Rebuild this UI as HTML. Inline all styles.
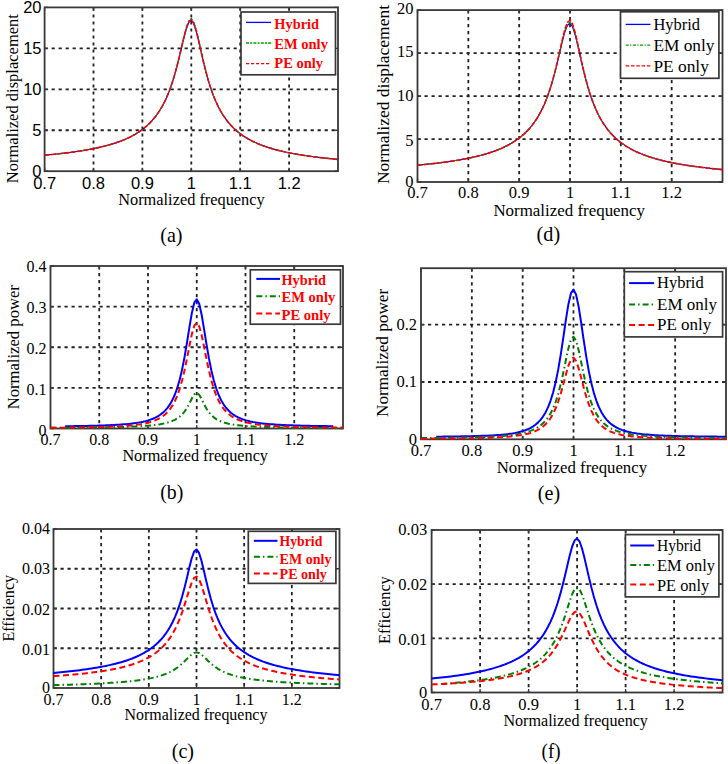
<!DOCTYPE html><html><head><meta charset="utf-8"><style>html,body{margin:0;padding:0;background:#fff;}svg{display:block;}</style></head><body>
<svg width="728" height="764" viewBox="0 0 728 764">
<rect width="728" height="764" fill="#fff"/>
<clipPath id="c0"><rect x="43.6" y="6.4" width="295.4" height="165.8"/></clipPath>
<path d="M93.5 7.4V171.2M142.4 7.4V171.2M191.3 7.4V171.2M240.2 7.4V171.2M289.1 7.4V171.2M44.6 130.25H338M44.6 89.3H338M44.6 48.35H338" stroke="#222" stroke-width="1.8" stroke-dasharray="3.2,3.8" fill="none"/>
<path d="M44.6 171.2v-3.5M44.6 7.4v3.5M93.5 171.2v-3.5M93.5 7.4v3.5M142.4 171.2v-3.5M142.4 7.4v3.5M191.3 171.2v-3.5M191.3 7.4v3.5M240.2 171.2v-3.5M240.2 7.4v3.5M289.1 171.2v-3.5M289.1 7.4v3.5M44.6 171.2h3.5M338 171.2h-3.5M44.6 130.25h3.5M338 130.25h-3.5M44.6 89.3h3.5M338 89.3h-3.5M44.6 48.35h3.5M338 48.35h-3.5M44.6 7.4h3.5M338 7.4h-3.5" stroke="#383838" stroke-width="1.3" fill="none"/>
<rect x="44.6" y="7.4" width="293.4" height="163.8" fill="none" stroke="#383838" stroke-width="1.8"/>
<path d="M44.6,155.17 47.05,154.95 49.49,154.72 51.94,154.48 54.38,154.23 56.83,153.98 59.27,153.71 61.72,153.44 64.16,153.15 66.61,152.85 69.05,152.54 71.5,152.22 73.94,151.88 76.38,151.53 78.83,151.17 81.27,150.79 83.72,150.39 86.16,149.97 88.61,149.53 91.05,149.07 93.5,148.59 95.94,148.09 98.39,147.56 100.83,147 103.28,146.4 105.72,145.78 108.17,145.12 110.62,144.42 113.06,143.68 115.5,142.9 117.95,142.06 120.4,141.17 122.84,140.21 125.29,139.19 127.73,138.1 130.18,136.92 132.62,135.65 135.07,134.28 137.51,132.8 139.96,131.18 142.4,129.42 144.85,127.49 147.29,125.37 149.73,123.04 152.18,120.45 154.62,117.58 157.07,114.37 159.51,110.78 161.96,106.72 164.41,102.13 166.85,96.91 169.3,90.96 171.74,84.18 174.19,76.45 176.63,67.73 179.07,58.07 181.52,47.76 183.97,37.47 186.41,28.42 188.85,22.25 191.3,20.5 193.74,23.71 196.19,31.08 198.63,40.97 201.08,51.76 203.52,62.35 205.97,72.14 208.41,80.91 210.86,88.64 213.3,95.41 215.75,101.34 218.19,106.53 220.64,111.09 223.09,115.13 225.53,118.7 227.97,121.89 230.42,124.74 232.87,127.31 235.31,129.63 237.76,131.74 240.2,133.66 242.64,135.41 245.09,137.02 247.53,138.5 249.98,139.86 252.43,141.13 254.87,142.3 257.31,143.39 259.76,144.41 262.21,145.36 264.65,146.25 267.1,147.08 269.54,147.87 271.99,148.6 274.43,149.3 276.88,149.96 279.32,150.58 281.77,151.17 284.21,151.73 286.65,152.26 289.1,152.77 291.55,153.25 293.99,153.71 296.43,154.15 298.88,154.57 301.33,154.97 303.77,155.35 306.21,155.72 308.66,156.07 311.11,156.41 313.55,156.73 316,157.04 318.44,157.34 320.89,157.63 323.33,157.91 325.77,158.18 328.22,158.43 330.67,158.68 333.11,158.92 335.56,159.16 338,159.38" stroke="#0000ff" stroke-width="1.2" fill="none" stroke-linejoin="round" clip-path="url(#c0)"/>
<path d="M44.6,155.19 47.05,154.97 49.49,154.74 51.94,154.5 54.38,154.25 56.83,154 59.27,153.73 61.72,153.46 64.16,153.17 66.61,152.87 69.05,152.57 71.5,152.24 73.94,151.91 76.38,151.56 78.83,151.19 81.27,150.81 83.72,150.41 86.16,149.99 88.61,149.56 91.05,149.1 93.5,148.62 95.94,148.11 98.39,147.58 100.83,147.02 103.28,146.43 105.72,145.81 108.17,145.15 110.62,144.45 113.06,143.71 115.5,142.92 117.95,142.09 120.4,141.19 122.84,140.24 125.29,139.22 127.73,138.13 130.18,136.95 132.62,135.68 135.07,134.31 137.51,132.82 139.96,131.2 142.4,129.44 144.85,127.5 147.29,125.38 149.73,123.04 152.18,120.45 154.62,117.57 157.07,114.35 159.51,110.73 161.96,106.65 164.41,102.03 166.85,96.77 169.3,90.76 171.74,83.9 174.19,76.06 176.63,67.19 179.07,57.33 181.52,46.74 183.97,36.13 186.41,26.74 188.85,20.31 191.3,18.46 193.74,21.78 196.19,29.43 198.63,39.65 201.08,50.77 203.52,61.61 205.97,71.6 208.41,80.52 210.86,88.35 213.3,95.2 215.75,101.19 218.19,106.42 220.64,111.02 223.09,115.07 225.53,118.66 227.97,121.87 230.42,124.73 232.87,127.31 235.31,129.63 237.76,131.74 240.2,133.67 242.64,135.42 245.09,137.03 247.53,138.51 249.98,139.88 252.43,141.14 254.87,142.32 257.31,143.41 259.76,144.42 262.21,145.38 264.65,146.27 267.1,147.1 269.54,147.88 271.99,148.62 274.43,149.32 276.88,149.98 279.32,150.6 281.77,151.19 284.21,151.75 286.65,152.28 289.1,152.79 291.55,153.27 293.99,153.73 296.43,154.17 298.88,154.59 301.33,154.99 303.77,155.37 306.21,155.73 308.66,156.09 311.11,156.42 313.55,156.75 316,157.06 318.44,157.36 320.89,157.65 323.33,157.92 325.77,158.19 328.22,158.45 330.67,158.7 333.11,158.94 335.56,159.17 338,159.39" stroke="#00a000" stroke-width="1.2" fill="none" stroke-linejoin="round" stroke-dasharray="4,2,1,2" clip-path="url(#c0)"/>
<path d="M44.6,155.2 47.05,154.98 49.49,154.75 51.94,154.51 54.38,154.27 56.83,154.01 59.27,153.75 61.72,153.47 64.16,153.18 66.61,152.89 69.05,152.58 71.5,152.26 73.94,151.92 76.38,151.57 78.83,151.21 81.27,150.83 83.72,150.43 86.16,150.01 88.61,149.57 91.05,149.12 93.5,148.63 95.94,148.13 98.39,147.6 100.83,147.04 103.28,146.45 105.72,145.83 108.17,145.17 110.62,144.47 113.06,143.73 115.5,142.95 117.95,142.11 120.4,141.22 122.84,140.27 125.29,139.25 127.73,138.16 130.18,136.98 132.62,135.71 135.07,134.34 137.51,132.86 139.96,131.24 142.4,129.48 144.85,127.55 147.29,125.44 149.73,123.1 152.18,120.52 154.62,117.64 157.07,114.43 159.51,110.83 161.96,106.77 164.41,102.17 166.85,96.94 169.3,90.97 171.74,84.15 174.19,76.38 176.63,67.6 179.07,57.85 181.52,47.41 183.97,36.98 186.41,27.77 188.85,21.48 191.3,19.69 193.74,22.95 196.19,30.44 198.63,40.48 201.08,51.42 203.52,62.12 205.97,72 208.41,80.83 210.86,88.6 213.3,95.41 215.75,101.35 218.19,106.56 220.64,111.13 223.09,115.17 225.53,118.75 227.97,121.94 230.42,124.8 232.87,127.37 235.31,129.69 237.76,131.79 240.2,133.71 242.64,135.46 245.09,137.07 247.53,138.55 249.98,139.91 252.43,141.17 254.87,142.34 257.31,143.43 259.76,144.45 262.21,145.4 264.65,146.29 267.1,147.12 269.54,147.91 271.99,148.64 274.43,149.34 276.88,150 279.32,150.62 281.77,151.21 284.21,151.77 286.65,152.3 289.1,152.8 291.55,153.28 293.99,153.74 296.43,154.18 298.88,154.6 301.33,155 303.77,155.38 306.21,155.75 308.66,156.1 311.11,156.43 313.55,156.76 316,157.07 318.44,157.37 320.89,157.66 323.33,157.93 325.77,158.2 328.22,158.46 330.67,158.71 333.11,158.95 335.56,159.18 338,159.4" stroke="#ff0000" stroke-width="1.6" fill="none" stroke-linejoin="round" stroke-dasharray="5,1.5" clip-path="url(#c0)"/>
<text x="41.5" y="176.97" font-family='"Liberation Sans", sans-serif' font-size="16.5" text-anchor="end" fill="#000">0</text>
<text x="41.5" y="136.03" font-family='"Liberation Sans", sans-serif' font-size="16.5" text-anchor="end" fill="#000">5</text>
<text x="41.5" y="95.08" font-family='"Liberation Sans", sans-serif' font-size="16.5" text-anchor="end" fill="#000">10</text>
<text x="41.5" y="54.12" font-family='"Liberation Sans", sans-serif' font-size="16.5" text-anchor="end" fill="#000">15</text>
<text x="41.5" y="13.18" font-family='"Liberation Sans", sans-serif' font-size="16.5" text-anchor="end" fill="#000">20</text>
<text x="44.6" y="188.5" font-family='"Liberation Sans", sans-serif' font-size="16.5" text-anchor="middle" fill="#000">0.7</text>
<text x="93.5" y="188.5" font-family='"Liberation Sans", sans-serif' font-size="16.5" text-anchor="middle" fill="#000">0.8</text>
<text x="142.4" y="188.5" font-family='"Liberation Sans", sans-serif' font-size="16.5" text-anchor="middle" fill="#000">0.9</text>
<text x="191.3" y="188.5" font-family='"Liberation Sans", sans-serif' font-size="16.5" text-anchor="middle" fill="#000">1</text>
<text x="240.2" y="188.5" font-family='"Liberation Sans", sans-serif' font-size="16.5" text-anchor="middle" fill="#000">1.1</text>
<text x="289.1" y="188.5" font-family='"Liberation Sans", sans-serif' font-size="16.5" text-anchor="middle" fill="#000">1.2</text>
<text x="118.2" y="205" font-family='"Liberation Serif", serif' font-size="16.3" textLength="146.5" lengthAdjust="spacingAndGlyphs" fill="#000">Normalized frequency</text>
<text transform="translate(17.7 183.2) rotate(-90)" x="0" y="0" font-family='"Liberation Serif", serif' font-size="16.5" textLength="169.1" lengthAdjust="spacingAndGlyphs" fill="#000">Normalized displacement</text>
<text x="160.2" y="242.3" font-family='"Liberation Serif", serif' font-size="22" textLength="22.3" lengthAdjust="spacingAndGlyphs" fill="#000">(a)</text>
<rect x="241" y="12" width="94.5" height="62.8" fill="#fff" stroke="#383838" stroke-width="1.7"/>
<path d="M246 22.4H271" stroke="#0000ff" stroke-width="1.3"/>
<text x="274.3" y="28.5" font-family='"Liberation Serif", serif' font-size="15" font-weight="bold" textLength="44.7" lengthAdjust="spacingAndGlyphs" fill="#ff0000">Hybrid</text>
<path d="M246 43H271" stroke="#00a000" stroke-width="1.3" stroke-dasharray="3,1.2,2,1.2"/>
<text x="274.3" y="49.1" font-family='"Liberation Serif", serif' font-size="15" font-weight="bold" textLength="53.6" lengthAdjust="spacingAndGlyphs" fill="#ff0000">EM only</text>
<path d="M246 63.6H271" stroke="#ff0000" stroke-width="1.3" stroke-dasharray="3.2,1.8"/>
<text x="274.3" y="68.4" font-family='"Liberation Serif", serif' font-size="15" font-weight="bold" textLength="48.8" lengthAdjust="spacingAndGlyphs" fill="#ff0000">PE only</text>
<clipPath id="c1"><rect x="49.5" y="265" width="294.5" height="164.5"/></clipPath>
<path d="M99.25 266V428.5M148 266V428.5M196.75 266V428.5M245.5 266V428.5M294.25 266V428.5M50.5 387.88H343M50.5 347.25H343M50.5 306.62H343" stroke="#222" stroke-width="1.8" stroke-dasharray="3.2,3.8" fill="none"/>
<path d="M50.5 428.5v-3.5M50.5 266v3.5M99.25 428.5v-3.5M99.25 266v3.5M148 428.5v-3.5M148 266v3.5M196.75 428.5v-3.5M196.75 266v3.5M245.5 428.5v-3.5M245.5 266v3.5M294.25 428.5v-3.5M294.25 266v3.5M50.5 428.5h3.5M343 428.5h-3.5M50.5 387.88h3.5M343 387.88h-3.5M50.5 347.25h3.5M343 347.25h-3.5M50.5 306.62h3.5M343 306.62h-3.5M50.5 266h3.5M343 266h-3.5" stroke="#383838" stroke-width="1.3" fill="none"/>
<rect x="50.5" y="266" width="292.5" height="162.5" fill="none" stroke="#383838" stroke-width="1.8"/>
<path d="M65.13,426.25 67.56,426.22 70,426.19 72.44,426.16 74.88,426.12 77.31,426.09 79.75,426.05 82.19,426.01 84.63,425.96 87.06,425.91 89.5,425.86 91.94,425.8 94.38,425.74 96.81,425.67 99.25,425.6 101.69,425.52 104.12,425.43 106.56,425.34 109,425.24 111.44,425.12 113.88,425 116.31,424.86 118.75,424.71 121.19,424.54 123.63,424.35 126.06,424.14 128.5,423.91 130.94,423.64 133.38,423.34 135.81,423.01 138.25,422.62 140.69,422.18 143.13,421.68 145.56,421.1 148,420.43 150.44,419.64 152.88,418.72 155.31,417.63 157.75,416.33 160.19,414.78 162.62,412.9 165.06,410.62 167.5,407.83 169.94,404.38 172.38,400.1 174.81,394.75 177.25,388.05 179.69,379.69 182.13,369.36 184.56,356.89 187,342.5 189.44,327.15 191.88,312.88 194.31,302.65 196.75,299.26 199.19,303.74 201.63,314.69 204.06,329.17 206.5,344.35 208.94,358.39 211.38,370.46 213.81,380.44 216.25,388.52 218.69,395 221.13,400.19 223.56,404.35 226,407.72 228.44,410.45 230.88,412.69 233.31,414.54 235.75,416.08 238.19,417.37 240.62,418.45 243.06,419.38 245.5,420.16 247.94,420.84 250.37,421.43 252.81,421.94 255.25,422.38 257.69,422.77 260.12,423.12 262.56,423.42 265,423.69 267.44,423.93 269.88,424.15 272.31,424.34 274.75,424.52 277.19,424.68 279.62,424.82 282.06,424.95 284.5,425.07 286.94,425.18 289.38,425.27 291.81,425.37 294.25,425.45 296.69,425.53 299.12,425.6 301.56,425.66 304,425.72 306.44,425.78 308.88,425.83 311.31,425.88 313.75,425.93 316.19,425.97 318.62,426.01 321.06,426.04 323.5,426.08 325.94,426.11 328.38,426.14 330.81,426.17 333.25,426.2" stroke="#0000ff" stroke-width="2.0" fill="none" stroke-linejoin="round" clip-path="url(#c1)"/>
<path d="M50.5,427.88 52.94,427.87 55.38,427.85 57.81,427.84 60.25,427.82 62.69,427.81 65.13,427.79 67.56,427.77 70,427.75 72.44,427.73 74.88,427.71 77.31,427.69 79.75,427.67 82.19,427.64 84.63,427.62 87.06,427.59 89.5,427.56 91.94,427.53 94.38,427.5 96.81,427.46 99.25,427.43 101.69,427.39 104.12,427.35 106.56,427.3 109,427.26 111.44,427.21 113.88,427.15 116.31,427.09 118.75,427.03 121.19,426.96 123.63,426.89 126.06,426.81 128.5,426.72 130.94,426.63 133.38,426.53 135.81,426.41 138.25,426.29 140.69,426.15 143.12,425.99 145.56,425.82 148,425.63 150.44,425.41 152.88,425.16 155.31,424.88 157.75,424.55 160.19,424.17 162.62,423.73 165.06,423.22 167.5,422.6 169.94,421.86 172.38,420.96 174.81,419.84 177.25,418.45 179.69,416.7 182.13,414.45 184.56,411.57 187,407.89 189.44,403.4 191.88,398.47 194.31,394.3 196.75,392.76 199.19,394.77 201.63,399.22 204.06,404.24 206.5,408.72 208.94,412.34 211.38,415.17 213.81,417.36 216.25,419.07 218.69,420.42 221.13,421.5 223.56,422.37 226,423.09 228.44,423.68 230.87,424.18 233.31,424.6 235.75,424.96 238.19,425.28 240.62,425.55 243.06,425.78 245.5,425.99 247.94,426.17 250.37,426.34 252.81,426.48 255.25,426.62 257.69,426.73 260.12,426.84 262.56,426.94 265,427.03 267.44,427.11 269.88,427.18 272.31,427.25 274.75,427.31 277.19,427.37 279.62,427.42 282.06,427.47 284.5,427.52 286.94,427.56 289.38,427.6 291.81,427.64 294.25,427.68 296.69,427.71 299.12,427.74 301.56,427.77 304,427.8 306.44,427.82 308.88,427.85 311.31,427.87 313.75,427.89 316.19,427.91 318.62,427.93 321.06,427.95 323.5,427.97 325.94,427.99 328.38,428 330.81,428.02 333.25,428.03 335.69,428.05 338.13,428.06 340.56,428.07 343,428.08" stroke="#008000" stroke-width="2.0" fill="none" stroke-linejoin="round" stroke-dasharray="6,3,1.5,3" clip-path="url(#c1)"/>
<path d="M50.5,427.77 52.94,427.75 55.38,427.73 57.81,427.71 60.25,427.69 62.69,427.67 65.13,427.65 67.56,427.63 70,427.6 72.44,427.57 74.88,427.54 77.31,427.51 79.75,427.48 82.19,427.44 84.63,427.4 87.06,427.36 89.5,427.31 91.94,427.26 94.38,427.21 96.81,427.15 99.25,427.09 101.69,427.02 104.12,426.94 106.56,426.86 109,426.77 111.44,426.67 113.88,426.57 116.31,426.45 118.75,426.32 121.19,426.17 123.63,426.01 126.06,425.83 128.5,425.63 130.94,425.4 133.38,425.15 135.81,424.86 138.25,424.53 140.69,424.16 143.12,423.73 145.56,423.23 148,422.66 150.44,422 152.88,421.22 155.31,420.29 157.75,419.2 160.19,417.9 162.62,416.33 165.06,414.42 167.5,412.09 169.94,409.22 172.38,405.66 174.81,401.23 177.25,395.7 179.69,388.81 182.13,380.33 184.56,370.11 187,358.34 189.44,345.79 191.88,334.12 194.31,325.7 196.75,322.82 199.19,326.33 201.63,335.12 204.06,346.82 206.5,359.16 208.94,370.62 211.38,380.52 213.81,388.75 216.25,395.44 218.69,400.83 221.13,405.17 223.56,408.67 226,411.51 228.44,413.82 230.87,415.73 233.31,417.31 235.75,418.62 238.19,419.73 240.62,420.67 243.06,421.47 245.5,422.15 247.94,422.74 250.37,423.25 252.81,423.7 255.25,424.09 257.69,424.44 260.12,424.74 262.56,425.01 265,425.25 267.44,425.47 269.88,425.66 272.31,425.83 274.75,425.99 277.19,426.13 279.62,426.26 282.06,426.38 284.5,426.49 286.94,426.59 289.38,426.68 291.81,426.76 294.25,426.84 296.69,426.91 299.12,426.97 301.56,427.03 304,427.09 306.44,427.14 308.88,427.19 311.31,427.23 313.75,427.27 316.19,427.31 318.62,427.35 321.06,427.38 323.5,427.42 325.94,427.45 328.38,427.48 330.81,427.5 333.25,427.53 335.69,427.55 338.13,427.57 340.56,427.6 343,427.62" stroke="#ff0000" stroke-width="2.0" fill="none" stroke-linejoin="round" stroke-dasharray="6,3.5" clip-path="url(#c1)"/>
<text x="46.5" y="435.6" font-family='"Liberation Serif", serif' font-size="16" text-anchor="end" fill="#000">0</text>
<text x="46.5" y="394.88" font-family='"Liberation Serif", serif' font-size="16" text-anchor="end" fill="#000">0.1</text>
<text x="46.5" y="354.15" font-family='"Liberation Serif", serif' font-size="16" text-anchor="end" fill="#000">0.2</text>
<text x="46.5" y="313.23" font-family='"Liberation Serif", serif' font-size="16" text-anchor="end" fill="#000">0.3</text>
<text x="46.5" y="272.3" font-family='"Liberation Serif", serif' font-size="16" text-anchor="end" fill="#000">0.4</text>
<text x="50.5" y="445.3" font-family='"Liberation Serif", serif' font-size="16" text-anchor="middle" fill="#000">0.7</text>
<text x="99.25" y="445.3" font-family='"Liberation Serif", serif' font-size="16" text-anchor="middle" fill="#000">0.8</text>
<text x="148" y="445.3" font-family='"Liberation Serif", serif' font-size="16" text-anchor="middle" fill="#000">0.9</text>
<text x="196.75" y="445.3" font-family='"Liberation Serif", serif' font-size="16" text-anchor="middle" fill="#000">1</text>
<text x="245.5" y="445.3" font-family='"Liberation Serif", serif' font-size="16" text-anchor="middle" fill="#000">1.1</text>
<text x="294.25" y="445.3" font-family='"Liberation Serif", serif' font-size="16" text-anchor="middle" fill="#000">1.2</text>
<text x="122.4" y="461.3" font-family='"Liberation Serif", serif' font-size="16.3" textLength="145.6" lengthAdjust="spacingAndGlyphs" fill="#000">Normalized frequency</text>
<text transform="translate(18.9 409.3) rotate(-90)" x="0" y="0" font-family='"Liberation Serif", serif' font-size="16.5" textLength="124.2" lengthAdjust="spacingAndGlyphs" fill="#000">Normalized power</text>
<text x="160.2" y="499.3" font-family='"Liberation Serif", serif' font-size="22" textLength="23.1" lengthAdjust="spacingAndGlyphs" fill="#000">(b)</text>
<rect x="250.3" y="269.8" width="90.2" height="54.4" fill="#fff" stroke="#383838" stroke-width="1.7"/>
<path d="M256.3 278.9H280" stroke="#0000ff" stroke-width="2.0"/>
<text x="281.5" y="284.9" font-family='"Liberation Serif", serif' font-size="14" font-weight="bold" textLength="44.5" lengthAdjust="spacingAndGlyphs" fill="#ff0000">Hybrid</text>
<path d="M256.3 296.3H280" stroke="#008000" stroke-width="2.0" stroke-dasharray="6,3,1.5,3"/>
<text x="281.5" y="302.3" font-family='"Liberation Serif", serif' font-size="14" font-weight="bold" textLength="53.7" lengthAdjust="spacingAndGlyphs" fill="#ff0000">EM only</text>
<path d="M256.3 313.6H280" stroke="#ff0000" stroke-width="2.0" stroke-dasharray="6,3.5"/>
<text x="281.5" y="319.7" font-family='"Liberation Serif", serif' font-size="14" font-weight="bold" textLength="49.1" lengthAdjust="spacingAndGlyphs" fill="#ff0000">PE only</text>
<clipPath id="c2"><rect x="52.5" y="528" width="288" height="161"/></clipPath>
<path d="M101.17 529V688M148.83 529V688M196.5 529V688M244.17 529V688M291.83 529V688M53.5 648.25H339.5M53.5 608.5H339.5M53.5 568.75H339.5" stroke="#222" stroke-width="1.8" stroke-dasharray="3.2,3.8" fill="none"/>
<path d="M53.5 688v-3.5M53.5 529v3.5M101.17 688v-3.5M101.17 529v3.5M148.83 688v-3.5M148.83 529v3.5M196.5 688v-3.5M196.5 529v3.5M244.17 688v-3.5M244.17 529v3.5M291.83 688v-3.5M291.83 529v3.5M53.5 688h3.5M339.5 688h-3.5M53.5 648.25h3.5M339.5 648.25h-3.5M53.5 608.5h3.5M339.5 608.5h-3.5M53.5 568.75h3.5M339.5 568.75h-3.5M53.5 529h3.5M339.5 529h-3.5" stroke="#383838" stroke-width="1.3" fill="none"/>
<rect x="53.5" y="529" width="286" height="159" fill="none" stroke="#383838" stroke-width="1.8"/>
<path d="M53.5,672.92 55.88,672.71 58.27,672.49 60.65,672.26 63.03,672.03 65.42,671.79 67.8,671.54 70.18,671.28 72.57,671.02 74.95,670.74 77.33,670.45 79.72,670.15 82.1,669.84 84.48,669.52 86.87,669.19 89.25,668.84 91.63,668.47 94.02,668.09 96.4,667.69 98.78,667.27 101.17,666.84 103.55,666.38 105.93,665.9 108.32,665.39 110.7,664.86 113.08,664.3 115.47,663.72 117.85,663.09 120.23,662.43 122.62,661.74 125,660.99 127.38,660.21 129.77,659.36 132.15,658.47 134.53,657.51 136.92,656.48 139.3,655.37 141.68,654.17 144.07,652.88 146.45,651.48 148.83,649.96 151.22,648.29 153.6,646.47 155.98,644.46 158.37,642.24 160.75,639.78 163.13,637.03 165.52,633.94 167.9,630.46 170.28,626.52 172.67,622.02 175.05,616.86 177.43,610.93 179.82,604.1 182.2,596.27 184.58,587.4 186.97,577.64 189.35,567.54 191.73,558.26 194.12,551.61 196.5,549.47 198.88,552.59 201.27,559.98 203.65,569.72 206.03,580.04 208.42,589.87 210.8,598.75 213.18,606.56 215.57,613.36 217.95,619.25 220.33,624.38 222.72,628.85 225.1,632.77 227.48,636.23 229.87,639.3 232.25,642.04 234.63,644.5 237.02,646.71 239.4,648.71 241.78,650.53 244.17,652.19 246.55,653.71 248.93,655.11 251.32,656.41 253.7,657.6 256.08,658.71 258.47,659.74 260.85,660.7 263.23,661.6 265.62,662.44 268,663.23 270.38,663.98 272.77,664.68 275.15,665.34 277.53,665.97 279.92,666.56 282.3,667.12 284.68,667.65 287.07,668.16 289.45,668.64 291.83,669.1 294.22,669.54 296.6,669.96 298.98,670.36 301.37,670.75 303.75,671.12 306.13,671.47 308.52,671.81 310.9,672.13 313.28,672.45 315.67,672.75 318.05,673.04 320.43,673.32 322.82,673.59 325.2,673.85 327.58,674.1 329.97,674.34 332.35,674.58 334.73,674.8 337.12,675.02 339.5,675.24" stroke="#0000ff" stroke-width="2.0" fill="none" stroke-linejoin="round" clip-path="url(#c2)"/>
<path d="M53.5,685.11 55.88,685.05 58.27,684.99 60.65,684.93 63.03,684.86 65.42,684.8 67.8,684.73 70.18,684.66 72.57,684.58 74.95,684.5 77.33,684.42 79.72,684.34 82.1,684.26 84.48,684.17 86.87,684.07 89.25,683.97 91.63,683.87 94.02,683.77 96.4,683.65 98.78,683.54 101.17,683.42 103.55,683.29 105.93,683.15 108.32,683.01 110.7,682.86 113.08,682.7 115.47,682.54 117.85,682.36 120.23,682.18 122.62,681.98 125,681.77 127.38,681.54 129.77,681.31 132.15,681.05 134.53,680.78 136.92,680.48 139.3,680.17 141.68,679.82 144.07,679.45 146.45,679.05 148.83,678.61 151.22,678.14 153.6,677.61 155.98,677.03 158.37,676.39 160.75,675.68 163.13,674.89 165.52,674.01 167.9,673.01 170.28,671.89 172.67,670.61 175.05,669.17 177.43,667.52 179.82,665.66 182.2,663.58 184.58,661.29 186.97,658.87 189.35,656.46 191.73,654.35 194.12,652.88 196.5,652.36 198.88,652.92 201.27,654.4 203.65,656.48 206.03,658.82 208.42,661.17 210.8,663.38 213.18,665.39 215.57,667.18 217.95,668.77 220.33,670.17 222.72,671.4 225.1,672.49 227.48,673.46 229.87,674.32 232.25,675.09 234.63,675.79 237.02,676.41 239.4,676.97 241.78,677.49 244.17,677.96 246.55,678.39 248.93,678.78 251.32,679.14 253.7,679.48 256.08,679.79 258.47,680.08 260.85,680.35 263.23,680.6 265.62,680.83 268,681.05 270.38,681.26 272.77,681.45 275.15,681.64 277.53,681.81 279.92,681.97 282.3,682.13 284.68,682.28 287.07,682.42 289.45,682.55 291.83,682.67 294.22,682.79 296.6,682.91 298.98,683.02 301.37,683.12 303.75,683.22 306.13,683.32 308.52,683.41 310.9,683.5 313.28,683.59 315.67,683.67 318.05,683.75 320.43,683.82 322.82,683.89 325.2,683.97 327.58,684.03 329.97,684.1 332.35,684.16 334.73,684.22 337.12,684.28 339.5,684.34" stroke="#008000" stroke-width="2.0" fill="none" stroke-linejoin="round" stroke-dasharray="6,3,1.5,3" clip-path="url(#c2)"/>
<path d="M53.5,676.08 55.88,675.92 58.27,675.75 60.65,675.58 63.03,675.4 65.42,675.22 67.8,675.03 70.18,674.83 72.57,674.62 74.95,674.4 77.33,674.18 79.72,673.94 82.1,673.7 84.48,673.45 86.87,673.18 89.25,672.9 91.63,672.61 94.02,672.31 96.4,671.99 98.78,671.66 101.17,671.31 103.55,670.94 105.93,670.56 108.32,670.15 110.7,669.72 113.08,669.27 115.47,668.79 117.85,668.28 120.23,667.74 122.62,667.17 125,666.56 127.38,665.91 129.77,665.22 132.15,664.48 134.53,663.68 136.92,662.82 139.3,661.9 141.68,660.9 144.07,659.82 146.45,658.65 148.83,657.36 151.22,655.96 153.6,654.42 155.98,652.72 158.37,650.83 160.75,648.74 163.13,646.4 165.52,643.77 167.9,640.81 170.28,637.45 172.67,633.62 175.05,629.26 177.43,624.26 179.82,618.56 182.2,612.1 184.58,604.91 186.97,597.19 189.35,589.43 191.73,582.56 194.12,577.85 196.5,576.51 198.88,578.97 201.27,584.6 203.65,592.11 206.03,600.25 208.42,608.18 210.8,615.48 213.18,621.98 215.57,627.7 217.95,632.69 220.33,637.04 222.72,640.85 225.1,644.2 227.48,647.15 229.87,649.76 232.25,652.09 234.63,654.18 237.02,656.05 239.4,657.75 241.78,659.28 244.17,660.68 246.55,661.96 248.93,663.13 251.32,664.21 253.7,665.2 256.08,666.12 258.47,666.98 260.85,667.77 263.23,668.51 265.62,669.2 268,669.85 270.38,670.46 272.77,671.03 275.15,671.57 277.53,672.08 279.92,672.56 282.3,673.01 284.68,673.44 287.07,673.85 289.45,674.24 291.83,674.61 294.22,674.96 296.6,675.29 298.98,675.61 301.37,675.92 303.75,676.21 306.13,676.49 308.52,676.75 310.9,677.01 313.28,677.26 315.67,677.49 318.05,677.72 320.43,677.94 322.82,678.15 325.2,678.35 327.58,678.55 329.97,678.73 332.35,678.92 334.73,679.09 337.12,679.26 339.5,679.42" stroke="#ff0000" stroke-width="2.0" fill="none" stroke-linejoin="round" stroke-dasharray="6,3.5" clip-path="url(#c2)"/>
<text x="50" y="692.8" font-family='"Liberation Serif", serif' font-size="16" text-anchor="end" fill="#000">0</text>
<text x="50" y="654.55" font-family='"Liberation Serif", serif' font-size="16" text-anchor="end" fill="#000">0.01</text>
<text x="50" y="614.5" font-family='"Liberation Serif", serif' font-size="16" text-anchor="end" fill="#000">0.02</text>
<text x="50" y="573.55" font-family='"Liberation Serif", serif' font-size="16" text-anchor="end" fill="#000">0.03</text>
<text x="50" y="533.8" font-family='"Liberation Serif", serif' font-size="16" text-anchor="end" fill="#000">0.04</text>
<text x="53.5" y="705.2" font-family='"Liberation Serif", serif' font-size="16" text-anchor="middle" fill="#000">0.7</text>
<text x="101.17" y="705.2" font-family='"Liberation Serif", serif' font-size="16" text-anchor="middle" fill="#000">0.8</text>
<text x="148.83" y="705.2" font-family='"Liberation Serif", serif' font-size="16" text-anchor="middle" fill="#000">0.9</text>
<text x="196.5" y="705.2" font-family='"Liberation Serif", serif' font-size="16" text-anchor="middle" fill="#000">1</text>
<text x="244.17" y="705.2" font-family='"Liberation Serif", serif' font-size="16" text-anchor="middle" fill="#000">1.1</text>
<text x="291.83" y="705.2" font-family='"Liberation Serif", serif' font-size="16" text-anchor="middle" fill="#000">1.2</text>
<text x="124.6" y="719.7" font-family='"Liberation Serif", serif' font-size="16.3" textLength="142.8" lengthAdjust="spacingAndGlyphs" fill="#000">Normalized frequency</text>
<text transform="translate(14.1 641.6) rotate(-90)" x="0" y="0" font-family='"Liberation Serif", serif' font-size="16" textLength="66.7" lengthAdjust="spacingAndGlyphs" fill="#000">Efficiency</text>
<text x="171.7" y="758.4" font-family='"Liberation Serif", serif' font-size="22" textLength="22.3" lengthAdjust="spacingAndGlyphs" fill="#000">(c)</text>
<rect x="248.3" y="531.3" width="87.6" height="52.1" fill="#fff" stroke="#383838" stroke-width="1.7"/>
<path d="M253.9 540.8H277.5" stroke="#0000ff" stroke-width="2.0"/>
<text x="279.6" y="546.4" font-family='"Liberation Serif", serif' font-size="14" font-weight="bold" textLength="42.7" lengthAdjust="spacingAndGlyphs" fill="#ff0000">Hybrid</text>
<path d="M253.9 556.7H277.5" stroke="#008000" stroke-width="2.0" stroke-dasharray="6,3,1.5,3"/>
<text x="279.6" y="563.8" font-family='"Liberation Serif", serif' font-size="14" font-weight="bold" textLength="51.8" lengthAdjust="spacingAndGlyphs" fill="#ff0000">EM only</text>
<path d="M253.9 573.6H277.5" stroke="#ff0000" stroke-width="2.0" stroke-dasharray="6,3.5"/>
<text x="279.6" y="578.9" font-family='"Liberation Serif", serif' font-size="14" font-weight="bold" textLength="47.3" lengthAdjust="spacingAndGlyphs" fill="#ff0000">PE only</text>
<clipPath id="c3"><rect x="416.5" y="9.1" width="307" height="173.9"/></clipPath>
<path d="M468.33 10.1V182M519.17 10.1V182M570 10.1V182M620.83 10.1V182M671.67 10.1V182M417.5 139.03H722.5M417.5 96.05H722.5M417.5 53.07H722.5" stroke="#222" stroke-width="1.8" stroke-dasharray="3.2,3.8" fill="none"/>
<path d="M417.5 182v-3.5M417.5 10.1v3.5M468.33 182v-3.5M468.33 10.1v3.5M519.17 182v-3.5M519.17 10.1v3.5M570 182v-3.5M570 10.1v3.5M620.83 182v-3.5M620.83 10.1v3.5M671.67 182v-3.5M671.67 10.1v3.5M417.5 182h3.5M722.5 182h-3.5M417.5 139.03h3.5M722.5 139.03h-3.5M417.5 96.05h3.5M722.5 96.05h-3.5M417.5 53.07h3.5M722.5 53.07h-3.5M417.5 10.1h3.5M722.5 10.1h-3.5" stroke="#383838" stroke-width="1.3" fill="none"/>
<rect x="417.5" y="10.1" width="305" height="171.9" fill="none" stroke="#383838" stroke-width="1.8"/>
<path d="M417.5,165.12 420.04,164.89 422.58,164.65 425.12,164.4 427.67,164.14 430.21,163.87 432.75,163.59 435.29,163.3 437.83,163 440.38,162.68 442.92,162.36 445.46,162.02 448,161.66 450.54,161.29 453.08,160.91 455.62,160.51 458.17,160.09 460.71,159.65 463.25,159.19 465.79,158.7 468.33,158.2 470.88,157.67 473.42,157.11 475.96,156.52 478.5,155.89 481.04,155.24 483.58,154.54 486.12,153.81 488.67,153.03 491.21,152.2 493.75,151.32 496.29,150.38 498.83,149.38 501.38,148.3 503.92,147.15 506.46,145.91 509,144.57 511.54,143.13 514.08,141.57 516.62,139.86 519.17,138.01 521.71,135.98 524.25,133.75 526.79,131.29 529.33,128.57 531.88,125.55 534.42,122.17 536.96,118.38 539.5,114.11 542.04,109.28 544.58,103.78 547.12,97.52 549.67,90.37 552.21,82.24 554.75,73.06 557.29,62.89 559.83,52.03 562.38,41.2 564.92,31.67 567.46,25.18 570,23.34 572.54,26.71 575.08,34.47 577.62,44.88 580.17,56.25 582.71,67.39 585.25,77.7 587.79,86.93 590.33,95.07 592.88,102.2 595.42,108.44 597.96,113.91 600.5,118.72 603.04,122.96 605.58,126.73 608.12,130.08 610.67,133.09 613.21,135.79 615.75,138.24 618.29,140.45 620.83,142.47 623.38,144.32 625.92,146.01 628.46,147.57 631,149 633.54,150.34 636.08,151.57 638.62,152.72 641.17,153.79 643.71,154.79 646.25,155.73 648.79,156.61 651.33,157.43 653.88,158.21 656.42,158.94 658.96,159.64 661.5,160.29 664.04,160.91 666.58,161.5 669.12,162.06 671.67,162.6 674.21,163.1 676.75,163.59 679.29,164.05 681.83,164.49 684.38,164.91 686.92,165.31 689.46,165.7 692,166.07 694.54,166.43 697.08,166.77 699.62,167.09 702.17,167.41 704.71,167.71 707.25,168.01 709.79,168.29 712.33,168.56 714.88,168.82 717.42,169.07 719.96,169.32 722.5,169.56" stroke="#0000ff" stroke-width="1.2" fill="none" stroke-linejoin="round" clip-path="url(#c3)"/>
<path d="M417.5,165.12 420.04,164.89 422.58,164.64 425.12,164.39 427.67,164.13 430.21,163.86 432.75,163.58 435.29,163.29 437.83,162.99 440.38,162.68 442.92,162.35 445.46,162.01 448,161.66 450.54,161.29 453.08,160.9 455.62,160.5 458.17,160.08 460.71,159.64 463.25,159.18 465.79,158.7 468.33,158.19 470.88,157.66 473.42,157.1 475.96,156.51 478.5,155.89 481.04,155.23 483.58,154.53 486.12,153.8 488.67,153.02 491.21,152.19 493.75,151.31 496.29,150.37 498.83,149.36 501.38,148.29 503.92,147.13 506.46,145.89 509,144.56 511.54,143.11 514.08,141.54 516.62,139.84 519.17,137.98 521.71,135.95 524.25,133.71 526.79,131.25 529.33,128.52 531.88,125.49 534.42,122.1 536.96,118.3 539.5,114.02 542.04,109.16 544.58,103.64 547.12,97.34 549.67,90.15 552.21,81.95 554.75,72.68 557.29,62.4 559.83,51.39 562.38,40.38 564.92,30.66 567.46,24.03 570,22.13 572.54,25.57 575.08,33.48 577.62,44.08 580.17,55.62 582.71,66.91 585.25,77.33 587.79,86.65 590.33,94.85 592.88,102.03 595.42,108.3 597.96,113.79 600.5,118.62 603.04,122.88 605.58,126.66 608.12,130.03 610.67,133.04 613.21,135.75 615.75,138.2 618.29,140.42 620.83,142.44 623.38,144.29 625.92,145.99 628.46,147.55 631,148.99 633.54,150.32 636.08,151.55 638.62,152.7 641.17,153.78 643.71,154.78 646.25,155.71 648.79,156.59 651.33,157.42 653.88,158.2 656.42,158.93 658.96,159.63 661.5,160.28 664.04,160.91 666.58,161.5 669.12,162.06 671.67,162.59 674.21,163.1 676.75,163.58 679.29,164.04 681.83,164.48 684.38,164.9 686.92,165.31 689.46,165.69 692,166.07 694.54,166.42 697.08,166.76 699.62,167.09 702.17,167.41 704.71,167.71 707.25,168 709.79,168.28 712.33,168.56 714.88,168.82 717.42,169.07 719.96,169.32 722.5,169.55" stroke="#00a000" stroke-width="1.2" fill="none" stroke-linejoin="round" stroke-dasharray="4,2,1,2" clip-path="url(#c3)"/>
<path d="M417.5,165.19 420.04,164.96 422.58,164.72 425.12,164.47 427.67,164.21 430.21,163.94 432.75,163.66 435.29,163.37 437.83,163.07 440.38,162.76 442.92,162.43 445.46,162.09 448,161.74 450.54,161.37 453.08,160.99 455.62,160.59 458.17,160.17 460.71,159.73 463.25,159.27 465.79,158.79 468.33,158.29 470.88,157.76 473.42,157.2 475.96,156.61 478.5,155.99 481.04,155.33 483.58,154.64 486.12,153.91 488.67,153.13 491.21,152.3 493.75,151.43 496.29,150.49 498.83,149.49 501.38,148.41 503.92,147.26 506.46,146.02 509,144.69 511.54,143.25 514.08,141.68 516.62,139.98 519.17,138.13 521.71,136.1 524.25,133.86 526.79,131.4 529.33,128.68 531.88,125.64 534.42,122.25 536.96,118.44 539.5,114.15 542.04,109.27 544.58,103.72 547.12,97.38 549.67,90.13 552.21,81.84 554.75,72.43 557.29,61.96 559.83,50.7 562.38,39.37 564.92,29.32 567.46,22.41 570,20.41 572.54,23.97 575.08,32.15 577.62,43.08 580.17,54.93 582.71,66.47 585.25,77.07 587.79,86.51 590.33,94.81 592.88,102.04 595.42,108.36 597.96,113.88 600.5,118.72 603.04,123 605.58,126.78 608.12,130.15 610.67,133.17 613.21,135.88 615.75,138.33 618.29,140.55 620.83,142.57 623.38,144.41 625.92,146.11 628.46,147.66 631,149.1 633.54,150.43 636.08,151.66 638.62,152.81 641.17,153.88 643.71,154.88 646.25,155.81 648.79,156.69 651.33,157.51 653.88,158.29 656.42,159.02 658.96,159.71 661.5,160.37 664.04,160.99 666.58,161.58 669.12,162.13 671.67,162.67 674.21,163.17 676.75,163.65 679.29,164.11 681.83,164.55 684.38,164.97 686.92,165.37 689.46,165.76 692,166.13 694.54,166.48 697.08,166.82 699.62,167.15 702.17,167.46 704.71,167.77 707.25,168.06 709.79,168.34 712.33,168.61 714.88,168.87 717.42,169.12 719.96,169.37 722.5,169.6" stroke="#ff0000" stroke-width="1.6" fill="none" stroke-linejoin="round" stroke-dasharray="5,1.5" clip-path="url(#c3)"/>
<text x="413.5" y="187.28" font-family='"Liberation Serif", serif' font-size="16.5" text-anchor="end" fill="#000">0</text>
<text x="413.5" y="145.8" font-family='"Liberation Serif", serif' font-size="16.5" text-anchor="end" fill="#000">5</text>
<text x="413.5" y="100.83" font-family='"Liberation Serif", serif' font-size="16.5" text-anchor="end" fill="#000">10</text>
<text x="413.5" y="56.85" font-family='"Liberation Serif", serif' font-size="16.5" text-anchor="end" fill="#000">15</text>
<text x="413.5" y="14.37" font-family='"Liberation Serif", serif' font-size="16.5" text-anchor="end" fill="#000">20</text>
<text x="417.5" y="198.2" font-family='"Liberation Serif", serif' font-size="16.5" text-anchor="middle" fill="#000">0.7</text>
<text x="468.33" y="198.2" font-family='"Liberation Serif", serif' font-size="16.5" text-anchor="middle" fill="#000">0.8</text>
<text x="519.17" y="198.2" font-family='"Liberation Serif", serif' font-size="16.5" text-anchor="middle" fill="#000">0.9</text>
<text x="570" y="198.2" font-family='"Liberation Serif", serif' font-size="16.5" text-anchor="middle" fill="#000">1</text>
<text x="620.83" y="198.2" font-family='"Liberation Serif", serif' font-size="16.5" text-anchor="middle" fill="#000">1.1</text>
<text x="671.67" y="198.2" font-family='"Liberation Serif", serif' font-size="16.5" text-anchor="middle" fill="#000">1.2</text>
<text x="493.4" y="215.8" font-family='"Liberation Serif", serif' font-size="17" textLength="151.6" lengthAdjust="spacingAndGlyphs" fill="#000">Normalized frequency</text>
<text transform="translate(389.2 184) rotate(-90)" x="0" y="0" font-family='"Liberation Serif", serif' font-size="17" textLength="179" lengthAdjust="spacingAndGlyphs" fill="#000">Normalized displacement</text>
<text x="536.6" y="241.4" font-family='"Liberation Serif", serif' font-size="22" textLength="23.5" lengthAdjust="spacingAndGlyphs" fill="#000">(d)</text>
<rect x="620.5" y="11.8" width="98.4" height="66.5" fill="#fff" stroke="#383838" stroke-width="1.7"/>
<path d="M625.7 24.4H650.5" stroke="#0000ff" stroke-width="1.3"/>
<text x="653.4" y="29.6" font-family='"Liberation Serif", serif' font-size="16.5" textLength="46.6" lengthAdjust="spacingAndGlyphs" fill="#000000">Hybrid</text>
<path d="M625.7 45.2H650.5" stroke="#00a000" stroke-width="1.3" stroke-dasharray="3,1.5,1.2,1.5"/>
<text x="653.4" y="50.6" font-family='"Liberation Serif", serif' font-size="16.5" textLength="61.1" lengthAdjust="spacingAndGlyphs" fill="#000000">EM only</text>
<path d="M625.7 65.8H650.5" stroke="#ff0000" stroke-width="1.3" stroke-dasharray="3.5,1.8"/>
<text x="653.4" y="72" font-family='"Liberation Serif", serif' font-size="16.5" textLength="55.5" lengthAdjust="spacingAndGlyphs" fill="#000000">PE only</text>
<clipPath id="c4"><rect x="420" y="267.2" width="307" height="173.1"/></clipPath>
<path d="M471.83 268.2V439.3M522.67 268.2V439.3M573.5 268.2V439.3M624.33 268.2V439.3M675.17 268.2V439.3M421 381.98H726M421 324.66H726" stroke="#222" stroke-width="1.8" stroke-dasharray="3.2,3.8" fill="none"/>
<path d="M421 439.3v-3.5M421 268.2v3.5M471.83 439.3v-3.5M471.83 268.2v3.5M522.67 439.3v-3.5M522.67 268.2v3.5M573.5 439.3v-3.5M573.5 268.2v3.5M624.33 439.3v-3.5M624.33 268.2v3.5M675.17 439.3v-3.5M675.17 268.2v3.5M421 439.3h3.5M726 439.3h-3.5M421 381.98h3.5M726 381.98h-3.5M421 324.66h3.5M726 324.66h-3.5" stroke="#383838" stroke-width="1.3" fill="none"/>
<rect x="421" y="268.2" width="305" height="171.1" fill="none" stroke="#383838" stroke-width="1.8"/>
<path d="M436.25,436.67 438.79,436.65 441.33,436.63 443.88,436.6 446.42,436.58 448.96,436.55 451.5,436.52 454.04,436.49 456.58,436.45 459.13,436.42 461.67,436.37 464.21,436.33 466.75,436.28 469.29,436.23 471.83,436.17 474.38,436.1 476.92,436.03 479.46,435.95 482,435.86 484.54,435.77 487.08,435.66 489.62,435.54 492.17,435.4 494.71,435.25 497.25,435.07 499.79,434.88 502.33,434.66 504.88,434.41 507.42,434.12 509.96,433.78 512.5,433.4 515.04,432.96 517.58,432.44 520.12,431.83 522.67,431.12 525.21,430.27 527.75,429.26 530.29,428.05 532.83,426.58 535.38,424.8 537.92,422.62 540.46,419.92 543,416.58 545.54,412.4 548.08,407.16 550.62,400.57 553.17,392.31 555.71,382.01 558.25,369.39 560.79,354.39 563.33,337.48 565.88,319.94 568.42,304.15 570.96,293.15 573.5,289.62 576.04,294.49 578.58,306.41 581.13,322.53 583.67,339.89 586.21,356.36 588.75,370.83 591.29,382.96 593.83,392.85 596.38,400.8 598.92,407.16 601.46,412.24 604,416.31 606.54,419.59 609.08,422.24 611.62,424.4 614.17,426.17 616.71,427.63 619.25,428.85 621.79,429.87 624.33,430.73 626.88,431.46 629.42,432.08 631.96,432.61 634.5,433.07 637.04,433.47 639.58,433.81 642.12,434.12 644.67,434.38 647.21,434.61 649.75,434.82 652.29,435 654.83,435.17 657.38,435.31 659.92,435.44 662.46,435.56 665,435.67 667.54,435.76 670.08,435.85 672.62,435.93 675.17,436 677.71,436.07 680.25,436.13 682.79,436.18 685.33,436.23 687.88,436.28 690.42,436.32 692.96,436.36 695.5,436.4 698.04,436.43 700.58,436.46 703.12,436.49 705.67,436.52 708.21,436.54 710.75,436.57 713.29,436.59 715.83,436.61 718.38,436.63 720.92,436.64 723.46,436.66 726,436.68" stroke="#0000ff" stroke-width="2.0" fill="none" stroke-linejoin="round" clip-path="url(#c4)"/>
<path d="M421,438.05 423.54,438.03 426.08,438.01 428.62,437.99 431.17,437.97 433.71,437.95 436.25,437.92 438.79,437.89 441.33,437.87 443.88,437.84 446.42,437.81 448.96,437.77 451.5,437.74 454.04,437.7 456.58,437.66 459.12,437.61 461.67,437.57 464.21,437.52 466.75,437.46 469.29,437.4 471.83,437.34 474.38,437.27 476.92,437.19 479.46,437.11 482,437.02 484.54,436.92 487.08,436.82 489.62,436.7 492.17,436.57 494.71,436.43 497.25,436.27 499.79,436.09 502.33,435.9 504.88,435.68 507.42,435.43 509.96,435.15 512.5,434.84 515.04,434.49 517.58,434.08 520.12,433.61 522.67,433.07 525.21,432.45 527.75,431.72 530.29,430.87 532.83,429.85 535.38,428.65 537.92,427.2 540.46,425.44 543,423.3 545.54,420.66 548.08,417.39 550.62,413.31 553.17,408.18 555.71,401.76 558.25,393.76 560.79,383.99 563.33,372.52 565.88,360.05 568.42,348.21 570.96,339.58 573.5,336.71 576.04,340.59 578.58,349.89 581.12,361.95 583.67,374.32 586.21,385.52 588.75,394.99 591.29,402.72 593.83,408.92 596.38,413.87 598.92,417.81 601.46,420.98 604,423.54 606.54,425.62 609.08,427.33 611.62,428.74 614.17,429.92 616.71,430.91 619.25,431.75 621.79,432.46 624.33,433.08 626.88,433.61 629.42,434.07 631.96,434.47 634.5,434.82 637.04,435.13 639.58,435.4 642.12,435.65 644.67,435.87 647.21,436.06 649.75,436.23 652.29,436.39 654.83,436.53 657.38,436.66 659.92,436.78 662.46,436.89 665,436.99 667.54,437.08 670.08,437.16 672.62,437.23 675.17,437.3 677.71,437.37 680.25,437.43 682.79,437.48 685.33,437.53 687.88,437.58 690.42,437.63 692.96,437.67 695.5,437.7 698.04,437.74 700.58,437.77 703.12,437.81 705.67,437.84 708.21,437.86 710.75,437.89 713.29,437.92 715.83,437.94 718.38,437.96 720.92,437.98 723.46,438 726,438.02" stroke="#008000" stroke-width="2.0" fill="none" stroke-linejoin="round" stroke-dasharray="6,3,1.5,3" clip-path="url(#c4)"/>
<path d="M421,438.7 423.54,438.68 426.08,438.67 428.62,438.65 431.17,438.64 433.71,438.62 436.25,438.6 438.79,438.59 441.33,438.57 443.88,438.55 446.42,438.52 448.96,438.5 451.5,438.47 454.04,438.44 456.58,438.42 459.12,438.38 461.67,438.35 464.21,438.31 466.75,438.27 469.29,438.23 471.83,438.18 474.38,438.13 476.92,438.07 479.46,438.01 482,437.94 484.54,437.87 487.08,437.79 489.62,437.7 492.17,437.6 494.71,437.49 497.25,437.37 499.79,437.23 502.33,437.08 504.88,436.91 507.42,436.71 509.96,436.49 512.5,436.24 515.04,435.96 517.58,435.63 520.12,435.25 522.67,434.81 525.21,434.3 527.75,433.7 530.29,432.99 532.83,432.14 535.38,431.13 537.92,429.9 540.46,428.41 543,426.58 545.54,424.33 548.08,421.52 550.62,418.03 553.17,413.65 555.71,408.21 558.25,401.5 560.79,393.45 563.33,384.24 565.88,374.52 568.42,365.62 570.96,359.42 573.5,357.64 576.04,360.86 578.58,368.12 581.12,377.57 583.67,387.4 586.21,396.45 588.75,404.21 591.29,410.59 593.83,415.73 596.38,419.83 598.92,423.1 601.46,425.71 604,427.8 606.54,429.49 609.08,430.87 611.62,431.99 614.17,432.92 616.71,433.7 619.25,434.35 621.79,434.9 624.33,435.36 626.88,435.76 629.42,436.1 631.96,436.4 634.5,436.65 637.04,436.88 639.58,437.07 642.12,437.24 644.67,437.4 647.21,437.53 649.75,437.65 652.29,437.76 654.83,437.86 657.38,437.94 659.92,438.02 662.46,438.09 665,438.16 667.54,438.22 670.08,438.27 672.62,438.32 675.17,438.36 677.71,438.4 680.25,438.44 682.79,438.47 685.33,438.5 687.88,438.53 690.42,438.56 692.96,438.59 695.5,438.61 698.04,438.63 700.58,438.65 703.12,438.67 705.67,438.69 708.21,438.7 710.75,438.72 713.29,438.73 715.83,438.75 718.38,438.76 720.92,438.77 723.46,438.78 726,438.79" stroke="#ff0000" stroke-width="2.0" fill="none" stroke-linejoin="round" stroke-dasharray="6,3.5" clip-path="url(#c4)"/>
<text x="417" y="444.57" font-family='"Liberation Serif", serif' font-size="16.5" text-anchor="end" fill="#000">0</text>
<text x="417" y="387.26" font-family='"Liberation Serif", serif' font-size="16.5" text-anchor="end" fill="#000">0.1</text>
<text x="417" y="329.94" font-family='"Liberation Serif", serif' font-size="16.5" text-anchor="end" fill="#000">0.2</text>
<text x="421" y="455.8" font-family='"Liberation Serif", serif' font-size="16.5" text-anchor="middle" fill="#000">0.7</text>
<text x="471.83" y="455.8" font-family='"Liberation Serif", serif' font-size="16.5" text-anchor="middle" fill="#000">0.8</text>
<text x="522.67" y="455.8" font-family='"Liberation Serif", serif' font-size="16.5" text-anchor="middle" fill="#000">0.9</text>
<text x="573.5" y="455.8" font-family='"Liberation Serif", serif' font-size="16.5" text-anchor="middle" fill="#000">1</text>
<text x="624.33" y="455.8" font-family='"Liberation Serif", serif' font-size="16.5" text-anchor="middle" fill="#000">1.1</text>
<text x="675.17" y="455.8" font-family='"Liberation Serif", serif' font-size="16.5" text-anchor="middle" fill="#000">1.2</text>
<text x="496.7" y="473.4" font-family='"Liberation Serif", serif' font-size="17" textLength="150.4" lengthAdjust="spacingAndGlyphs" fill="#000">Normalized frequency</text>
<text transform="translate(387.6 417) rotate(-90)" x="0" y="0" font-family='"Liberation Serif", serif' font-size="17" textLength="128.1" lengthAdjust="spacingAndGlyphs" fill="#000">Normalized power</text>
<text x="537.8" y="499.7" font-family='"Liberation Serif", serif' font-size="22" textLength="22.3" lengthAdjust="spacingAndGlyphs" fill="#000">(e)</text>
<rect x="624.3" y="271.7" width="98.3" height="65.2" fill="#fff" stroke="#383838" stroke-width="1.7"/>
<path d="M629.1 283.1H654.1" stroke="#0000ff" stroke-width="2.0"/>
<text x="657" y="287.9" font-family='"Liberation Serif", serif' font-size="16.5" textLength="46.7" lengthAdjust="spacingAndGlyphs" fill="#000000">Hybrid</text>
<path d="M629.1 304.5H654.1" stroke="#008000" stroke-width="2.0" stroke-dasharray="6,3,1.5,3"/>
<text x="657" y="309.8" font-family='"Liberation Serif", serif' font-size="16.5" textLength="60" lengthAdjust="spacingAndGlyphs" fill="#000000">EM only</text>
<path d="M629.1 324.9H654.1" stroke="#ff0000" stroke-width="2.0" stroke-dasharray="6,3.5"/>
<text x="657" y="329.7" font-family='"Liberation Serif", serif' font-size="16.5" textLength="54.3" lengthAdjust="spacingAndGlyphs" fill="#000000">PE only</text>
<clipPath id="c5"><rect x="430.6" y="529" width="293" height="164.5"/></clipPath>
<path d="M480.1 530V692.5M528.6 530V692.5M577.1 530V692.5M625.6 530V692.5M674.1 530V692.5M431.6 638.33H722.6M431.6 584.17H722.6" stroke="#222" stroke-width="1.8" stroke-dasharray="3.2,3.8" fill="none"/>
<path d="M431.6 692.5v-3.5M431.6 530v3.5M480.1 692.5v-3.5M480.1 530v3.5M528.6 692.5v-3.5M528.6 530v3.5M577.1 692.5v-3.5M577.1 530v3.5M625.6 692.5v-3.5M625.6 530v3.5M674.1 692.5v-3.5M674.1 530v3.5M431.6 692.5h3.5M722.6 692.5h-3.5M431.6 638.33h3.5M722.6 638.33h-3.5M431.6 584.17h3.5M722.6 584.17h-3.5M431.6 530h3.5M722.6 530h-3.5" stroke="#383838" stroke-width="1.3" fill="none"/>
<rect x="431.6" y="530" width="291" height="162.5" fill="none" stroke="#383838" stroke-width="1.8"/>
<path d="M431.6,678.54 434.03,678.3 436.45,678.06 438.88,677.81 441.3,677.55 443.73,677.27 446.15,676.99 448.58,676.7 451,676.4 453.43,676.08 455.85,675.76 458.28,675.41 460.7,675.06 463.12,674.69 465.55,674.3 467.98,673.9 470.4,673.48 472.82,673.04 475.25,672.57 477.68,672.09 480.1,671.58 482.53,671.05 484.95,670.48 487.38,669.89 489.8,669.26 492.23,668.6 494.65,667.91 497.08,667.16 499.5,666.38 501.93,665.54 504.35,664.65 506.78,663.7 509.2,662.69 511.63,661.6 514.05,660.44 516.48,659.18 518.9,657.82 521.33,656.36 523.75,654.77 526.18,653.04 528.6,651.15 531.03,649.08 533.45,646.81 535.88,644.3 538.3,641.52 540.73,638.44 543.15,634.99 545.58,631.12 548,626.77 550.43,621.85 552.85,616.28 555.28,609.95 557.7,602.77 560.12,594.65 562.55,585.58 564.98,575.67 567.4,565.26 569.83,555.06 572.25,546.25 574.67,540.3 577.1,538.53 579.52,541.4 581.95,548.23 584.38,557.62 586.8,568.12 589.23,578.64 591.65,588.54 594.08,597.53 596.5,605.55 598.92,612.63 601.35,618.86 603.78,624.34 606.2,629.18 608.62,633.46 611.05,637.26 613.48,640.65 615.9,643.69 618.33,646.43 620.75,648.9 623.18,651.13 625.6,653.17 628.03,655.03 630.45,656.74 632.88,658.31 635.3,659.75 637.73,661.09 640.15,662.33 642.58,663.48 645,664.56 647.43,665.56 649.85,666.49 652.28,667.37 654.7,668.2 657.12,668.97 659.55,669.7 661.98,670.39 664.4,671.05 666.83,671.66 669.25,672.25 671.67,672.8 674.1,673.33 676.53,673.83 678.95,674.31 681.38,674.77 683.8,675.2 686.23,675.62 688.65,676.02 691.08,676.4 693.5,676.76 695.93,677.11 698.35,677.45 700.77,677.77 703.2,678.08 705.63,678.38 708.05,678.66 710.48,678.94 712.9,679.21 715.33,679.46 717.75,679.71 720.17,679.95 722.6,680.18" stroke="#0000ff" stroke-width="2.0" fill="none" stroke-linejoin="round" clip-path="url(#c5)"/>
<path d="M441.3,684.01 443.73,683.83 446.15,683.64 448.58,683.45 451,683.25 453.43,683.05 455.85,682.83 458.28,682.61 460.7,682.38 463.13,682.14 465.55,681.88 467.98,681.62 470.4,681.35 472.82,681.06 475.25,680.76 477.68,680.44 480.1,680.11 482.53,679.77 484.95,679.4 487.38,679.02 489.8,678.61 492.23,678.19 494.65,677.73 497.08,677.25 499.5,676.75 501.93,676.21 504.35,675.63 506.78,675.02 509.2,674.37 511.63,673.66 514.05,672.91 516.48,672.1 518.9,671.23 521.33,670.28 523.75,669.26 526.18,668.14 528.6,666.92 531.03,665.58 533.45,664.11 535.88,662.49 538.3,660.69 540.73,658.68 543.15,656.44 545.58,653.91 548,651.06 550.43,647.81 552.85,644.11 555.28,639.88 557.7,635.02 560.12,629.47 562.55,623.15 564.98,616.11 567.4,608.51 569.83,600.84 572.25,593.97 574.68,589.12 577.1,587.45 579.52,589.39 581.95,594.39 584.38,601.26 586.8,608.82 589.23,616.24 591.65,623.1 594.08,629.24 596.5,634.65 598.92,639.37 601.35,643.49 603.78,647.1 606.2,650.27 608.62,653.06 611.05,655.53 613.48,657.73 615.9,659.7 618.33,661.46 620.75,663.06 623.18,664.5 625.6,665.82 628.03,667.02 630.45,668.12 632.88,669.13 635.3,670.06 637.73,670.93 640.15,671.73 642.58,672.47 645,673.16 647.43,673.81 649.85,674.41 652.28,674.98 654.7,675.52 657.12,676.02 659.55,676.49 661.98,676.94 664.4,677.36 666.83,677.76 669.25,678.14 671.68,678.5 674.1,678.85 676.53,679.17 678.95,679.49 681.38,679.78 683.8,680.07 686.23,680.34 688.65,680.6 691.08,680.85 693.5,681.09 695.93,681.32 698.35,681.54 700.77,681.75 703.2,681.95 705.63,682.15 708.05,682.34 710.48,682.52 712.9,682.69 715.33,682.86 717.75,683.03 720.17,683.18 722.6,683.34" stroke="#008000" stroke-width="2.0" fill="none" stroke-linejoin="round" stroke-dasharray="6,3,1.5,3" clip-path="url(#c5)"/>
<path d="M431.6,684.48 434.03,684.37 436.45,684.26 438.88,684.14 441.3,684.02 443.73,683.9 446.15,683.77 448.58,683.63 451,683.49 453.43,683.34 455.85,683.19 458.28,683.02 460.7,682.85 463.12,682.68 465.55,682.49 467.98,682.29 470.4,682.09 472.82,681.87 475.25,681.64 477.68,681.4 480.1,681.15 482.53,680.89 484.95,680.6 487.38,680.31 489.8,679.99 492.23,679.66 494.65,679.3 497.08,678.93 499.5,678.52 501.93,678.1 504.35,677.64 506.78,677.15 509.2,676.62 511.63,676.05 514.05,675.44 516.48,674.78 518.9,674.07 521.33,673.29 523.75,672.45 526.18,671.53 528.6,670.52 531.03,669.41 533.45,668.19 535.88,666.84 538.3,665.33 540.73,663.66 543.15,661.78 545.58,659.67 548,657.3 550.43,654.61 552.85,651.56 555.28,648.11 557.7,644.2 560.12,639.81 562.55,634.95 564.98,629.7 567.4,624.27 569.83,619.08 572.25,614.74 574.67,611.99 577.1,611.42 579.52,613.22 581.95,617.05 584.38,622.21 586.8,627.96 589.23,633.74 591.65,639.2 594.08,644.17 596.5,648.61 598.92,652.53 601.35,655.97 603.78,658.99 606.2,661.65 608.62,663.99 611.05,666.06 613.48,667.9 615.9,669.55 618.33,671.02 620.75,672.34 623.18,673.53 625.6,674.61 628.03,675.59 630.45,676.48 632.88,677.3 635.3,678.05 637.73,678.74 640.15,679.38 642.58,679.97 645,680.52 647.43,681.03 649.85,681.5 652.28,681.94 654.7,682.35 657.12,682.74 659.55,683.1 661.98,683.45 664.4,683.77 666.83,684.07 669.25,684.36 671.67,684.63 674.1,684.88 676.53,685.12 678.95,685.35 681.38,685.57 683.8,685.78 686.23,685.98 688.65,686.17 691.08,686.35 693.5,686.52 695.93,686.68 698.35,686.84 700.77,686.99 703.2,687.13 705.63,687.27 708.05,687.4 710.48,687.53 712.9,687.65 715.33,687.77 717.75,687.88 720.17,687.99 722.6,688.09" stroke="#ff0000" stroke-width="2.0" fill="none" stroke-linejoin="round" stroke-dasharray="6,3.5" clip-path="url(#c5)"/>
<text x="427.2" y="697.77" font-family='"Liberation Serif", serif' font-size="16.5" text-anchor="end" fill="#000">0</text>
<text x="427.2" y="644.61" font-family='"Liberation Serif", serif' font-size="16.5" text-anchor="end" fill="#000">0.01</text>
<text x="427.2" y="590.44" font-family='"Liberation Serif", serif' font-size="16.5" text-anchor="end" fill="#000">0.02</text>
<text x="427.2" y="535.27" font-family='"Liberation Serif", serif' font-size="16.5" text-anchor="end" fill="#000">0.03</text>
<text x="431.6" y="709.8" font-family='"Liberation Serif", serif' font-size="16.5" text-anchor="middle" fill="#000">0.7</text>
<text x="480.1" y="709.8" font-family='"Liberation Serif", serif' font-size="16.5" text-anchor="middle" fill="#000">0.8</text>
<text x="528.6" y="709.8" font-family='"Liberation Serif", serif' font-size="16.5" text-anchor="middle" fill="#000">0.9</text>
<text x="577.1" y="709.8" font-family='"Liberation Serif", serif' font-size="16.5" text-anchor="middle" fill="#000">1</text>
<text x="625.6" y="709.8" font-family='"Liberation Serif", serif' font-size="16.5" text-anchor="middle" fill="#000">1.1</text>
<text x="674.1" y="709.8" font-family='"Liberation Serif", serif' font-size="16.5" text-anchor="middle" fill="#000">1.2</text>
<text x="503.4" y="725.6" font-family='"Liberation Serif", serif' font-size="16.5" textLength="144.5" lengthAdjust="spacingAndGlyphs" fill="#000">Normalized frequency</text>
<text transform="translate(390 643.9) rotate(-90)" x="0" y="0" font-family='"Liberation Serif", serif' font-size="16.3" textLength="67.7" lengthAdjust="spacingAndGlyphs" fill="#000">Efficiency</text>
<text x="541.6" y="758.3" font-family='"Liberation Serif", serif' font-size="22" textLength="19" lengthAdjust="spacingAndGlyphs" fill="#000">(f)</text>
<rect x="625.4" y="534.6" width="93.5" height="62.3" fill="#fff" stroke="#383838" stroke-width="1.7"/>
<path d="M630.3 545.5H654.1" stroke="#0000ff" stroke-width="2.0"/>
<text x="657" y="550.8" font-family='"Liberation Serif", serif' font-size="16.5" textLength="44.1" lengthAdjust="spacingAndGlyphs" fill="#000000">Hybrid</text>
<path d="M630.3 565H654.1" stroke="#008000" stroke-width="2.0" stroke-dasharray="6,3,1.5,3"/>
<text x="657" y="570.6" font-family='"Liberation Serif", serif' font-size="16.5" textLength="58" lengthAdjust="spacingAndGlyphs" fill="#000000">EM only</text>
<path d="M630.3 584.4H654.1" stroke="#ff0000" stroke-width="2.0" stroke-dasharray="6,3.5"/>
<text x="657" y="590.9" font-family='"Liberation Serif", serif' font-size="16.5" textLength="52.2" lengthAdjust="spacingAndGlyphs" fill="#000000">PE only</text>
</svg></body></html>
